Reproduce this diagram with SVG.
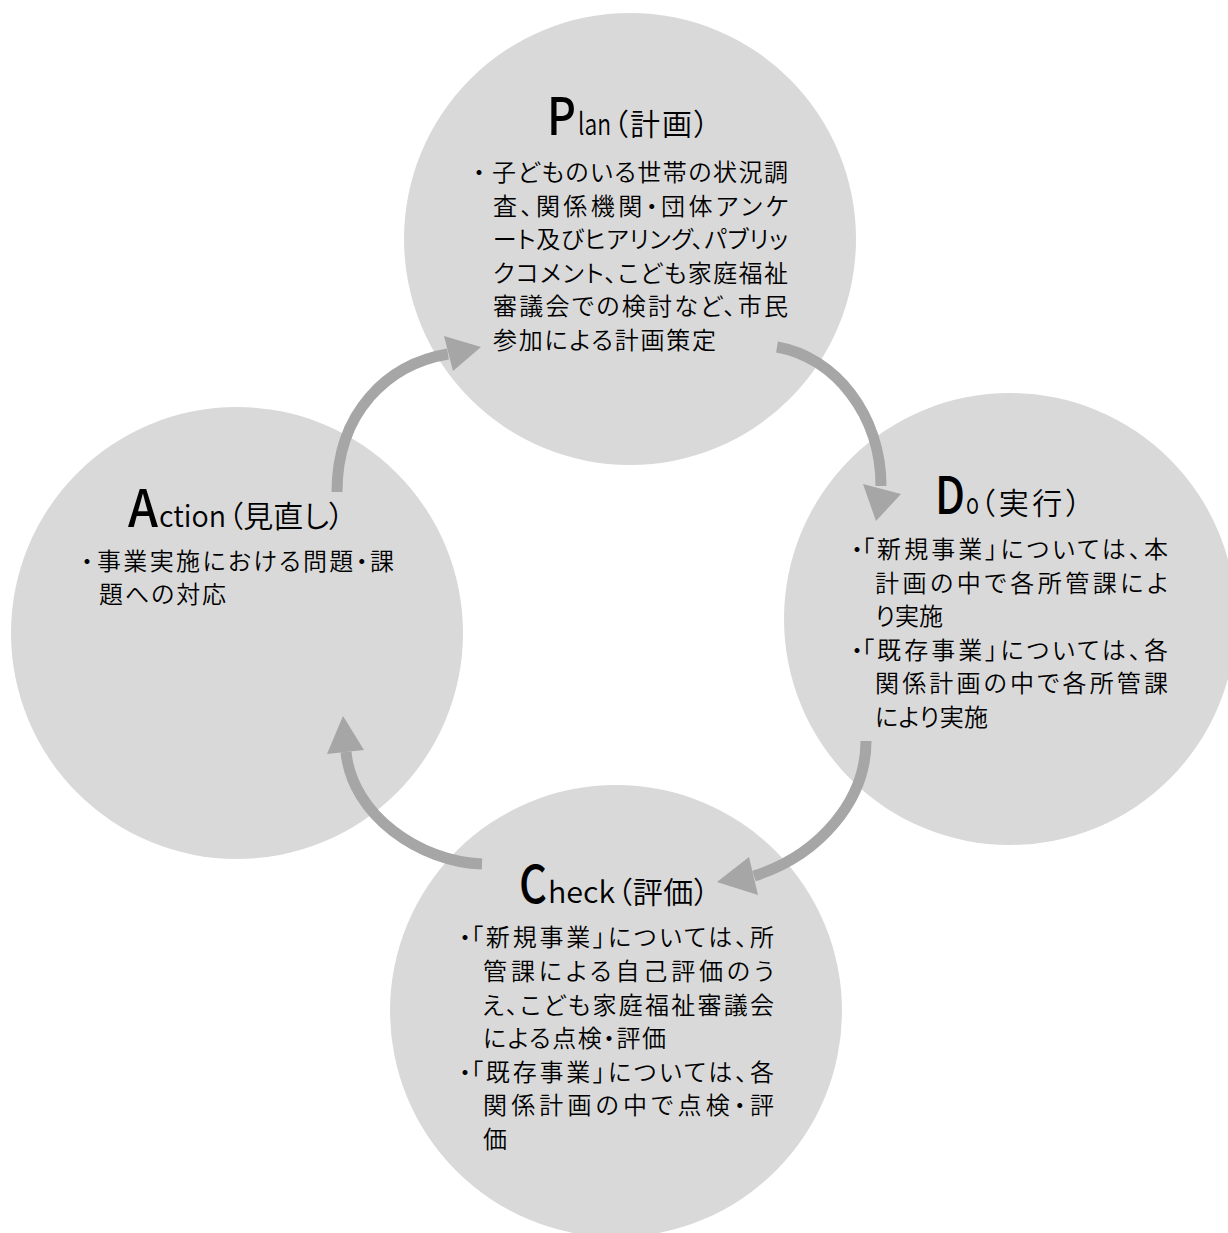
<svg xmlns="http://www.w3.org/2000/svg" width="1228" height="1233" viewBox="0 0 1228 1233">
<style>
.c{fill:#d9d9d9}
.t{font-family:"Noto Sans CJK JP","Noto Sans",sans-serif;font-weight:350;fill:#000;font-feature-settings:"palt"}
.b{font-size:24px}
.bu{font-size:24px;text-anchor:middle}
.big{font-size:52px;font-weight:500}
.mid{font-size:30px;font-weight:350}
.arr{fill:none;stroke:#a6a6a6;stroke-width:11}
.head{fill:#a6a6a6}
</style>
<rect width="1228" height="1233" fill="#fff"/>
<g id="node-plan">
<circle class="c" cx="630" cy="239" r="226"/>
<text class="t" y="135"><tspan class="big" x="547" textLength="29" lengthAdjust="spacingAndGlyphs">P</tspan><tspan class="mid" x="578" textLength="33" lengthAdjust="spacingAndGlyphs">lan</tspan><tspan class="mid" x="613" textLength="96" lengthAdjust="spacing">（計画）</tspan></text>
<text class="t bu" x="479" y="181">・</text>
<text class="t b" x="492" y="181" textLength="296" lengthAdjust="spacing">子どものいる世帯の状況調</text>
<text class="t b" x="493" y="215" textLength="295" lengthAdjust="spacing">査、関係機関・団体アンケ</text>
<text class="t b" x="493" y="248" textLength="295" lengthAdjust="spacing">ート及びヒアリング、パブリッ</text>
<text class="t b" x="493" y="282" textLength="295" lengthAdjust="spacing">クコメント、こども家庭福祉</text>
<text class="t b" x="493" y="315" textLength="295" lengthAdjust="spacing">審議会での検討など、市民</text>
<text class="t b" x="493" y="349" textLength="223" lengthAdjust="spacing">参加による計画策定</text>
</g>
<g id="node-do">
<circle class="c" cx="1010" cy="619" r="226"/>
<text class="t" y="514"><tspan class="big" x="935" textLength="30" lengthAdjust="spacingAndGlyphs">D</tspan><tspan class="mid" x="966" textLength="13" lengthAdjust="spacingAndGlyphs">o</tspan><tspan class="mid" x="980" textLength="101" lengthAdjust="spacing">（実行）</tspan></text>
<text class="t bu" x="857" y="558">・</text>
<text class="t b" x="862" y="558" textLength="306" lengthAdjust="spacing">「新規事業」については、本</text>
<text class="t b" x="875" y="592" textLength="293" lengthAdjust="spacing">計画の中で各所管課によ</text>
<text class="t b" x="875" y="625" textLength="68" lengthAdjust="spacing">り実施</text>
<text class="t bu" x="857" y="659">・</text>
<text class="t b" x="862" y="659" textLength="306" lengthAdjust="spacing">「既存事業」については、各</text>
<text class="t b" x="875" y="692" textLength="293" lengthAdjust="spacing">関係計画の中で各所管課</text>
<text class="t b" x="875" y="726" textLength="113" lengthAdjust="spacing">により実施</text>
</g>
<g id="node-action">
<circle class="c" cx="237" cy="633" r="226"/>
<text class="t" y="527"><tspan class="big" x="128" textLength="30" lengthAdjust="spacingAndGlyphs">A</tspan><tspan class="mid" x="159" textLength="67" lengthAdjust="spacingAndGlyphs">ction</tspan><tspan class="mid" x="228" textLength="116" lengthAdjust="spacing">（見直し）</tspan></text>
<text class="t bu" x="87" y="570">・</text>
<text class="t b" x="97" y="570" textLength="297" lengthAdjust="spacing">事業実施における問題・課</text>
<text class="t b" x="99" y="603" textLength="127" lengthAdjust="spacing">題への対応</text>
</g>
<g id="node-check">
<circle class="c" cx="616" cy="1011" r="226"/>
<text class="t" y="903"><tspan class="big" x="519" textLength="28" lengthAdjust="spacingAndGlyphs">C</tspan><tspan class="mid" x="548" textLength="67" lengthAdjust="spacingAndGlyphs">heck</tspan><tspan class="mid" x="617" textLength="92" lengthAdjust="spacing">（評価）</tspan></text>
<text class="t bu" x="465" y="946">・</text>
<text class="t b" x="471" y="946" textLength="303" lengthAdjust="spacing">「新規事業」については、所</text>
<text class="t b" x="483" y="980" textLength="291" lengthAdjust="spacing">管課による自己評価のう</text>
<text class="t b" x="482" y="1014" textLength="292" lengthAdjust="spacing">え、こども家庭福祉審議会</text>
<text class="t b" x="483" y="1047" textLength="183" lengthAdjust="spacing">による点検・評価</text>
<text class="t bu" x="465" y="1081">・</text>
<text class="t b" x="471" y="1081" textLength="303" lengthAdjust="spacing">「既存事業」については、各</text>
<text class="t b" x="483" y="1114" textLength="291" lengthAdjust="spacing">関係計画の中で点検・評</text>
<text class="t b" x="483" y="1148">価</text>
</g>
<g id="connectors">
<path class="arr" d="M777 347 C835 357 881 415 881 486"/>
<polygon class="head" points="863,484 901,494 876,521"/>
<path class="arr" d="M866 741 C866 800 820 855 754 876"/>
<polygon class="head" points="749,857 758,895 717,882"/>
<path class="arr" d="M482 864 C420 862 352 815 346 752"/>
<polygon class="head" points="327,754 364,750 343,716"/>
<path class="arr" d="M337 492 C337 412 388 364 448 354"/>
<polygon class="head" points="444,336 453,371 481,347"/>
</g>
</svg>
